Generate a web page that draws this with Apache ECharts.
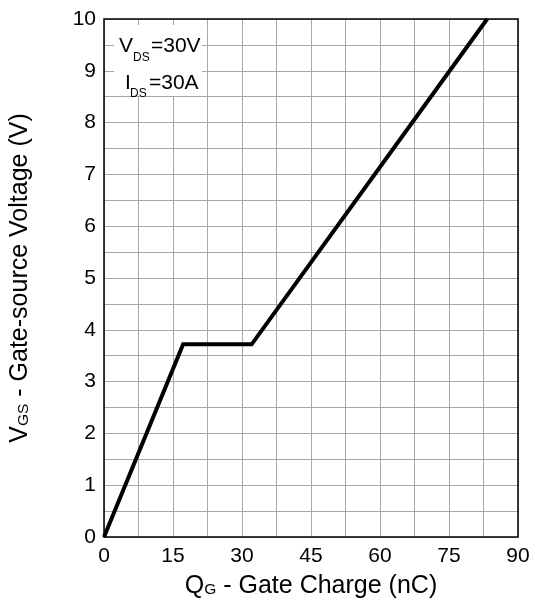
<!DOCTYPE html>
<html><head><meta charset="utf-8">
<script src="https://cdn.jsdelivr.net/npm/echarts@6/dist/echarts.min.js"></script>
<style>html,body{margin:0;padding:0;background:#fff}#c{width:538px;height:605px}</style>
</head><body><div id="c"></div>
<script>
// Gate charge curve (QG in nC, VGS in V)
const qg = [0, 17.2, 32.1, 83.3];
const vgs = [0, 3.72, 3.72, 10];
const xTicks = [0, 15, 30, 45, 60, 75, 90];
const yTicks = [0, 1, 2, 3, 4, 5, 6, 7, 8, 9, 10];
const noteLine1 = ['V', 'DS', '=30V'];
const noteLine2 = ['I', 'DS', '=30A'];

const FONT = 'Liberation Sans, Arial, sans-serif';
const nameRich = {
  a: { fontSize: 25, fontFamily: FONT, color: '#000', verticalAlign: 'bottom', lineHeight: 27 },
  b: { fontSize: 15.5, fontFamily: FONT, color: '#000', verticalAlign: 'bottom', lineHeight: 18, padding: [0, 0, 1.5, 0] }
};
const chart = echarts.init(document.getElementById('c'));
chart.setOption({
  animation: false,
  backgroundColor: '#fff',
  grid: { left: 104, right: 20, top: 19, bottom: 68, show: true, borderColor: '#000', borderWidth: 1.5, z: 5 },
  xAxis: {
    type: 'value', min: 0, max: 90, interval: 7.5,
    axisLine: { show: false }, axisTick: { show: false },
    splitLine: { show: true, lineStyle: { color: '#a8a8a8', width: 1 } },
    axisLabel: {
      color: '#000', fontSize: 21, fontFamily: FONT, margin: 9,
      formatter: v => xTicks.includes(Math.round(v * 100) / 100) ? String(v) : ''
    },
    name: '{a|Q}{b|G}{a| - Gate Charge (nC)}',
    nameLocation: 'middle', nameGap: 35,
    nameTextStyle: { rich: nameRich }
  },
  yAxis: {
    type: 'value', min: 0, max: 10, interval: 0.5,
    axisLine: { show: false }, axisTick: { show: false },
    splitLine: { show: true, lineStyle: { color: '#a8a8a8', width: 1 } },
    axisLabel: {
      color: '#000', fontSize: 21, fontFamily: FONT, margin: 8, padding: [3, 0, 0, 0],
      formatter: v => yTicks.includes(v) ? String(v) : ''
    },
    name: '{a|V}{b|GS}{a| - Gate-source Voltage (V)}',
    nameLocation: 'middle', nameGap: 71,
    nameTextStyle: { rich: nameRich }
  },
  series: [{
    type: 'line',
    data: qg.map((q, i) => [q, vgs[i]]),
    showSymbol: false, symbol: 'none',
    lineStyle: { color: '#000', width: 4, join: 'miter' },
    z: 3
  }],
  graphic: [
    { type: 'rect', shape: { x: 114, y: 25, width: 88, height: 71 }, style: { fill: '#fff' }, z: 10 },
    { type: 'text', x: 119, y: 46, style: { text: noteLine1[0], font: '21px ' + FONT, fill: '#000', textVerticalAlign: 'middle' }, z: 11 },
    { type: 'text', x: 133, y: 58, style: { text: noteLine1[1], font: '12px ' + FONT, fill: '#000', textVerticalAlign: 'middle' }, z: 11 },
    { type: 'text', x: 151, y: 46, style: { text: noteLine1[2], font: '21px ' + FONT, fill: '#000', textVerticalAlign: 'middle' }, z: 11 },
    { type: 'text', x: 125, y: 83, style: { text: noteLine2[0], font: '21px ' + FONT, fill: '#000', textVerticalAlign: 'middle' }, z: 11 },
    { type: 'text', x: 130, y: 94, style: { text: noteLine2[1], font: '12px ' + FONT, fill: '#000', textVerticalAlign: 'middle' }, z: 11 },
    { type: 'text', x: 149, y: 83, style: { text: noteLine2[2], font: '21px ' + FONT, fill: '#000', textVerticalAlign: 'middle' }, z: 11 }
  ]
});
</script></body></html>
